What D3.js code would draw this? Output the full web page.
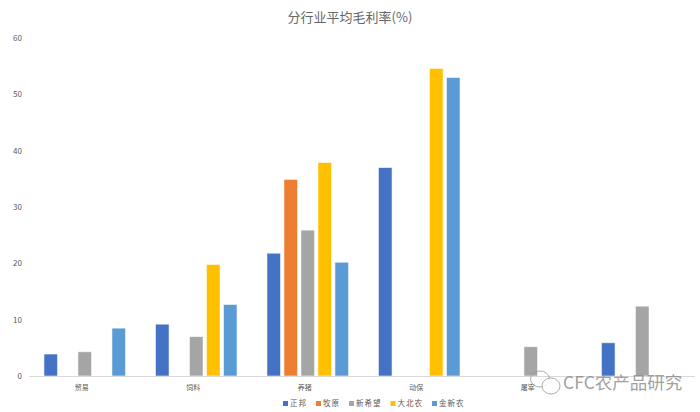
<!DOCTYPE html>
<html>
<head>
<meta charset="utf-8">
<script src="https://cdn.jsdelivr.net/npm/d3@7"></script>
<style>
  body { margin: 0; background: #fff; }
  text { font-family: "Noto Sans CJK SC", "Noto Sans", sans-serif; }
</style>
</head>
<body>
<div id="chart"></div>
<script>
// categories (the last one's label is hidden under the watermark in the source)
const categories = ["贸易", "饲料", "养猪", "动保", "屠宰", ""];
const seriesNames = ["正邦", "牧原", "新希望", "大北农", "金新农"];
const colors = ["#4472C4", "#ED7D31", "#A5A5A5", "#FFC000", "#5B9BD5"];

// values per series, one per category (null = no bar)
const zhengbang  = [3.9, 9.2, 21.8, 37.0, null, 5.9];
const muyuan     = [null, null, 34.9, null, null, null];
const xinxiwang  = [4.3, 7.0, 25.9, null, 5.2, 12.4];
const dabeinong  = [null, 19.8, 37.9, 54.6, null, null];
const jinxinnong = [8.5, 12.7, 20.2, 53.0, null, null];
const seriesValues = [zhengbang, muyuan, xinxiwang, dabeinong, jinxinnong];

const yTicks = [0, 10, 20, 30, 40, 50, 60];

const width = 700, height = 412;
const margin = { top: 38, right: 2, bottom: 36, left: 29 };

const svg = d3.select("#chart").append("svg")
    .attr("width", width)
    .attr("height", height);

const x0 = d3.scaleBand()
    .domain(d3.range(categories.length))
    .range([margin.left, width - margin.right])
    .padding(0);

const x1 = d3.scaleBand()
    .domain(d3.range(seriesNames.length))
    .range([0, x0.bandwidth()])
    .paddingInner(0.2)
    .paddingOuter(0.88);

const y = d3.scaleLinear()
    .domain([0, 60])
    .range([height - margin.bottom, margin.top]);

// title
svg.append("text")
    .attr("x", 350)
    .attr("y", 22)
    .attr("text-anchor", "middle")
    .attr("fill", "#666")
    .style("font-size", "13px")
    .text("分行业平均毛利率(%)");

// y axis labels (no axis line, no grid)
const yAxis = svg.append("g")
    .attr("transform", "translate(" + (margin.left - 7) + ",0)")
    .call(d3.axisLeft(y).tickValues(yTicks).tickSize(0).tickPadding(0));
yAxis.select(".domain").remove();
yAxis.selectAll("text")
    .attr("fill", "#595959")
    .style("font-size", "8px");

// bars
const groups = svg.selectAll(".group")
    .data(categories)
    .join("g")
    .attr("class", "group")
    .attr("transform", (d, i) => "translate(" + x0(i) + ",0)");

groups.selectAll("rect")
    .data((d, i) => seriesValues.map((s, j) => ({ s: j, v: s[i] })).filter(d => d.v != null))
    .join("rect")
    .attr("x", d => x1(d.s))
    .attr("width", x1.bandwidth())
    .attr("y", d => y(d.v))
    .attr("height", d => y(0) - y(d.v))
    .attr("fill", d => colors[d.s])
    .attr("stroke", "#fff")
    .attr("stroke-opacity", 0.7)
    .attr("stroke-width", 0.8);

// x axis baseline
svg.append("line")
    .attr("x1", margin.left)
    .attr("x2", width - 5)
    .attr("y1", y(0) + 0.5)
    .attr("y2", y(0) + 0.5)
    .attr("stroke", "#d9d9d9")
    .attr("stroke-width", 1);

// category labels
svg.selectAll(".cat")
    .data(categories)
    .join("text")
    .attr("class", "cat")
    .attr("x", (d, i) => x0(i) + x0.bandwidth() / 2 - 3)
    .attr("y", y(0) + 14)
    .attr("text-anchor", "middle")
    .attr("fill", "#595959")
    .style("font-size", "7px")
    .text(d => d);

// legend
const legend = svg.append("g").attr("transform", "translate(283,406)");
let lx = 0;
seriesNames.forEach((name, i) => {
    const item = legend.append("g").attr("transform", "translate(" + lx + ",0)");
    item.append("rect")
        .attr("x", 0).attr("y", -5)
        .attr("width", 5).attr("height", 5)
        .attr("fill", colors[i]);
    const t = item.append("text")
        .attr("x", 7).attr("y", 0)
        .attr("fill", "#595959")
        .style("font-size", "7.5px")
        .style("letter-spacing", "1px")
        .text(name);
    lx += 7 + t.node().getComputedTextLength() + 9;
});

// watermark
const wm = svg.append("g").attr("transform", "translate(530,382)").attr("opacity", 0.8);
wm.append("ellipse").attr("cx", 10).attr("cy", -3).attr("rx", 9.5).attr("ry", 8)
    .attr("fill", "none").attr("stroke", "#9a9a9a").attr("stroke-width", 1);
wm.append("ellipse").attr("cx", 21).attr("cy", 4).attr("rx", 9).attr("ry", 8)
    .attr("fill", "rgba(255,255,255,0.85)").attr("stroke", "#9a9a9a").attr("stroke-width", 1);
wm.append("text")
    .attr("x", 33).attr("y", 7)
    .attr("fill", "#8a8a8a")
    .style("font-size", "17.5px")
    .text("CFC农产品研究");
</script>
</body>
</html>
